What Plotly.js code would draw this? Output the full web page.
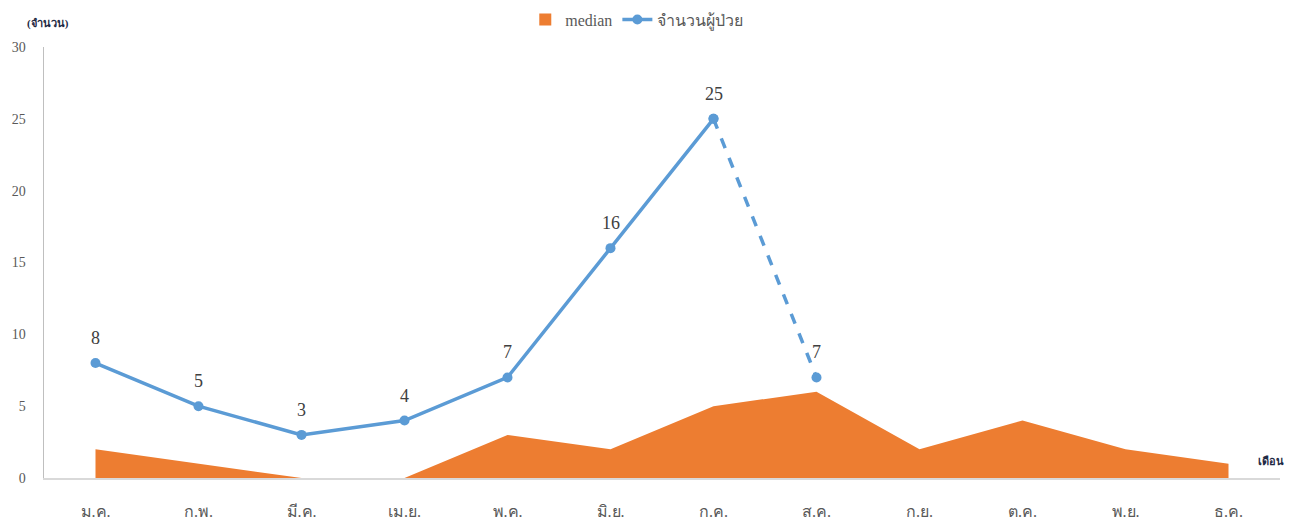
<!DOCTYPE html>
<html><head><meta charset="utf-8">
<script src="https://cdn.plot.ly/plotly-3.0.1.min.js"></script>
<style>body{margin:0;background:#fff}#c{width:1296px;height:524px}</style>
</head><body><div id="c"></div>
<script>
var months = ['ม.ค.','ก.พ.','มี.ค.','เม.ย.','พ.ค.','มิ.ย.','ก.ค.','ส.ค.','ก.ย.','ต.ค.','พ.ย.','ธ.ค.'];
var median = [2,1,0,0,3,2,5,6,2,4,2,1];
var patients = [8,5,3,4,7,16,25,7];
var solidCount = 7; // last segment (ก.ค. -> ส.ค.) drawn dashed

var serif = 'Liberation Serif, Times New Roman, serif';
var blue = '#5B9BD5', orange = '#ED7D31';

var solidX = months.slice(0, solidCount), solidY = patients.slice(0, solidCount);
var dashX = months.slice(solidCount - 1, patients.length), dashY = patients.slice(solidCount - 1);

var traces = [
  {x: months, y: median, type: 'scatter', mode: 'lines', fill: 'tozeroy',
   fillcolor: orange, line: {color: orange, width: 0}, name: 'median', showlegend: false, hoverinfo: 'y'},
  // legend swatch for the median area (no visible bars)
  {x: [months[0]], y: [null], type: 'bar', marker: {color: orange}, name: 'median'},
  {x: dashX, y: dashY, type: 'scatter', mode: 'lines+markers',
   line: {color: blue, width: 3.5, dash: 'dash'}, marker: {color: blue, size: 10},
   showlegend: false, cliponaxis: false},
  {x: solidX, y: solidY, type: 'scatter', mode: 'lines+markers',
   line: {color: blue, width: 3.5}, marker: {color: blue, size: 10},
   name: 'จำนวนผู้ป่วย', cliponaxis: false}
];

var labelAnns = patients.map(function(v, i){
  return {x: months[i], y: v, xref: 'x', yref: 'y', text: String(v), showarrow: false,
          yanchor: 'bottom', yshift: 13, font: {family: serif, size: 18, color: '#404040'}};
});

var layout = {
  width: 1296, height: 524,
  margin: {l: 44, r: 16, t: 47, b: 46},
  paper_bgcolor: '#fff', plot_bgcolor: '#fff',
  font: {family: serif, color: '#595959'},
  showlegend: true,
  legend: {orientation: 'h', x: 0.48, xanchor: 'center', xref: 'paper',
           y: 0.995, yanchor: 'top', yref: 'container',
           font: {family: serif, size: 16, color: '#595959'}, traceorder: 'normal'},
  xaxis: {type: 'category', categoryorder: 'array', categoryarray: months,
          range: [-0.5, 11.5], showgrid: false, zeroline: false,
          showline: true, linecolor: '#d9d9d9', linewidth: 1.5,
          ticks: '', tickfont: {family: serif, size: 16, color: '#595959'},
          ticklabelstandoff: 18, fixedrange: true},
  yaxis: {range: [0, 30], dtick: 5, showgrid: false, zeroline: false,
          showline: true, linecolor: '#bfbfbf', linewidth: 1.5,
          ticks: '', tickfont: {family: serif, size: 14, color: '#595959'},
          ticklabelstandoff: 14, fixedrange: true},
  annotations: labelAnns.concat([
    {text: '<b>(จำนวน)</b>', xref: 'paper', yref: 'paper', x: -0.015, y: 1.035,
     xanchor: 'left', yanchor: 'bottom', showarrow: false,
     font: {family: serif, size: 11, color: '#1f2a44'}},
    {text: '<b>เดือน</b>', xref: 'paper', yref: 'paper', x: 1.005, y: 0.04,
     xanchor: 'right', yanchor: 'middle', showarrow: false,
     font: {family: serif, size: 11, color: '#1f2a44'}}
  ])
};

Plotly.newPlot('c', traces, layout, {displayModeBar: false, staticPlot: true});
</script>
</body></html>
